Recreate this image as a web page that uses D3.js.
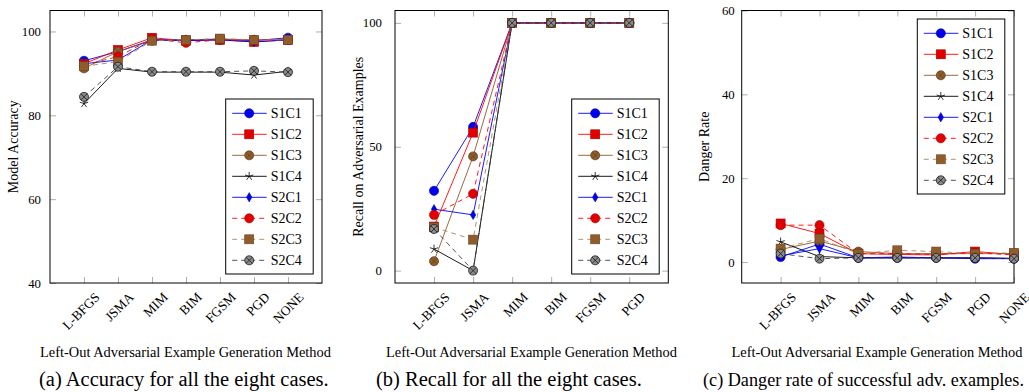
<!DOCTYPE html>
<html>
<head>
<meta charset="utf-8">
<script src="https://cdn.jsdelivr.net/npm/d3@7"></script>
<style>
  html, body { margin: 0; padding: 0; background: #fff; }
  svg { display: block; }
  svg text { font-family: "Liberation Serif", "DejaVu Serif", serif; }
</style>
</head>
<body>
<div id="chart"></div>
<script>
// categories
const methodsAll = ["L-BFGS", "JSMA", "MIM", "BIM", "FGSM", "PGD", "NONE"];
const methodsRecall = ["L-BFGS", "JSMA", "MIM", "BIM", "FGSM", "PGD"];
const seriesNames = ["S1C1", "S1C2", "S1C3", "S1C4", "S2C1", "S2C2", "S2C3", "S2C4"];

// (a) model accuracy, one row per series
const accuracyVals = [
  [93.0, 95.2, 98.0, 98.0, 98.1, 97.8, 98.5],
  [92.3, 95.6, 98.5, 97.8, 98.0, 97.5, 98.0],
  [91.2, 95.2, 97.8, 98.0, 98.2, 98.0, 98.0],
  [82.8, 91.2, 90.3, 90.3, 90.3, 89.6, 90.5],
  [92.3, 93.2, 98.0, 97.8, 98.0, 97.5, 98.0],
  [92.0, 94.0, 98.2, 97.3, 98.0, 98.0, 98.0],
  [91.7, 92.8, 97.8, 98.0, 98.3, 98.0, 98.0],
  [84.4, 91.6, 90.4, 90.4, 90.4, 90.6, 90.3]
];

// (b) recall on adversarial examples
const recallVals = [
  [32.2, 58.0, 100, 100, 100, 100],
  [17.8, 55.7, 100, 100, 100, 100],
  [3.8, 46.1, 100, 100, 100, 100],
  [8.7, 0.0, 100, 100, 100, 100],
  [24.8, 22.5, 100, 100, 100, 100],
  [22.5, 31.0, 100, 100, 100, 100],
  [17.5, 12.5, 100, 100, 100, 100],
  [16.8, 0.0, 100, 100, 100, 100]
];

// (c) danger rate
const dangerVals = [
  [1.2, 4.3, 1.0, 1.0, 1.0, 0.8, 0.8],
  [9.2, 6.8, 2.0, 1.8, 1.7, 2.5, 1.8],
  [3.0, 5.0, 2.5, 2.0, 2.0, 2.0, 2.0],
  [4.8, 1.3, 1.0, 1.0, 1.0, 1.0, 0.9],
  [1.5, 3.2, 1.0, 1.2, 1.0, 1.0, 0.8],
  [8.8, 8.8, 2.0, 2.0, 1.8, 2.2, 1.7],
  [3.2, 5.6, 2.0, 2.8, 2.5, 2.0, 2.2],
  [2.0, 0.8, 1.0, 1.0, 1.0, 1.0, 0.8]
];

// look of every series (pgfplots-like)
const seriesStyle = [
  { line: "#0000ff", dash: null,  mark: "circle",  fill: "#0000ee", stroke: "#0000a8" },
  { line: "#ff0000", dash: null,  mark: "square",  fill: "#e00000", stroke: "#b00000" },
  { line: "#8b5a2b", dash: null,  mark: "otimes",  fill: "#8f5c2c", stroke: "#6a421e", cross: "#6a421e" },
  { line: "#000000", dash: null,  mark: "star",    fill: "none",    stroke: "#000000" },
  { line: "#0000ff", dash: null,  mark: "diamond", fill: "#0000ee", stroke: "#0000a8" },
  { line: "#ff0000", dash: "5,4", mark: "circle",  fill: "#e00000", stroke: "#b00000" },
  { line: "#a88462", dash: "5,4", mark: "square",  fill: "#8f5c2c", stroke: "#6a421e" },
  { line: "#404040", dash: "5,4", mark: "otimes",  fill: "#8a8a8a", stroke: "#1a1a1a", cross: "#1a1a1a" }
];

const W = 1029, H = 392;
const plotTop = 10.5, plotBottom = 283;
const serif = "Liberation Serif, DejaVu Serif, serif";

const panels = [
  { left: 50, right: 322, yDomain: [40, 105], yTicks: [40, 60, 80, 100], cats: methodsAll, xMax: 7,
    data: accuracyVals, legend: [225.7, 99], ylabel: "Model Accuracy", ylabelX: 13, gap: 9,
    xlabelX: 185.5, caption: "(a) Accuracy for all the eight cases.", captionX: 39, captionSize: 20.5 },
  { left: 395, right: 668.3, yDomain: [-5, 105], yTicks: [0, 50, 100], cats: methodsRecall, xMax: 6,
    data: recallVals, legend: [571.7, 99], ylabel: "Recall on Adversarial Examples", ylabelX: 358, gap: 13,
    xlabelX: 531.5, caption: "(b) Recall for all the eight cases.", captionX: 376, captionSize: 20.5 },
  { left: 741.7, right: 1014, yDomain: [-5, 60], yTicks: [0, 20, 40, 60], cats: methodsAll, xMax: 6,
    data: dangerVals, legend: [917.3, 19], ylabel: "Danger Rate", ylabelX: 704, gap: 7,
    xlabelX: 877, caption: "(c) Danger rate of successful adv. examples.", captionX: 703, captionSize: 18.2 }
];

const svg = d3.select("#chart").append("svg")
  .attr("width", W)
  .attr("height", H);

function drawMarker(g, st, cx, cy) {
  if (st.mark === "circle") {
    g.append("circle").attr("cx", cx).attr("cy", cy).attr("r", 4.6)
      .attr("fill", st.fill).attr("stroke", st.stroke).attr("stroke-width", 0.6);
  } else if (st.mark === "square") {
    g.append("rect").attr("x", cx - 4.5).attr("y", cy - 4.5).attr("width", 9).attr("height", 9)
      .attr("fill", st.fill).attr("stroke", st.stroke).attr("stroke-width", 0.6);
  } else if (st.mark === "otimes") {
    const r = 4.5, k = r * Math.SQRT1_2;
    g.append("circle").attr("cx", cx).attr("cy", cy).attr("r", r)
      .attr("fill", st.fill).attr("stroke", st.stroke).attr("stroke-width", 0.8);
    g.append("path")
      .attr("d", `M${cx - k},${cy - k}L${cx + k},${cy + k}M${cx - k},${cy + k}L${cx + k},${cy - k}`)
      .attr("stroke", st.cross).attr("stroke-width", 0.8).attr("fill", "none");
  } else if (st.mark === "diamond") {
    g.append("path")
      .attr("transform", `translate(${cx},${cy})`)
      .attr("d", d3.symbol(d3.symbolDiamond, 26)())
      .attr("fill", st.fill).attr("stroke", st.stroke).attr("stroke-width", 0.5);
  } else if (st.mark === "star") {
    const r = 4.4;
    let d = "";
    for (let i = 0; i < 5; i++) {
      const a = -Math.PI / 2 + i * 2 * Math.PI / 5;
      d += `M${cx},${cy}L${cx + r * Math.cos(a)},${cy + r * Math.sin(a)}`;
    }
    g.append("path").attr("d", d).attr("stroke", st.stroke).attr("stroke-width", 0.8).attr("fill", "none");
  }
}

panels.forEach(p => {
  const x = d3.scaleLinear().domain([-1, p.xMax]).range([p.left, p.right]);
  const y = d3.scaleLinear().domain(p.yDomain).range([plotBottom, plotTop]);
  const g = svg.append("g");
  const idx = d3.range(p.cats.length);

  // ticks (inside, mirrored on all sides)
  const axL = g.append("g").attr("transform", `translate(${p.left},0)`)
    .call(d3.axisLeft(y).tickValues(p.yTicks).tickSize(-6).tickPadding(p.gap));
  const axR = g.append("g").attr("transform", `translate(${p.right},0)`)
    .call(d3.axisRight(y).tickValues(p.yTicks).tickSize(-6).tickFormat(""));
  const axB = g.append("g").attr("transform", `translate(0,${plotBottom})`)
    .call(d3.axisBottom(x).tickValues(idx).tickSize(-6).tickFormat(i => p.cats[i]));
  const axT = g.append("g").attr("transform", `translate(0,${plotTop})`)
    .call(d3.axisTop(x).tickValues(idx).tickSize(-6).tickFormat(""));
  [axL, axR, axB, axT].forEach(a => {
    a.select(".domain").remove();
    a.selectAll(".tick line").attr("stroke", "#9a9a9a").attr("stroke-width", 0.8);
  });
  axL.selectAll(".tick text")
    .attr("font-family", serif).attr("font-size", 12.8).attr("fill", "#000");
  axB.selectAll(".tick text")
    .attr("font-family", serif).attr("font-size", 13.3).attr("fill", "#000")
    .attr("x", 0).attr("y", 0).attr("dy", null)
    .attr("text-anchor", "end")
    .attr("transform", "translate(16,15) rotate(-45)");

  // frame
  g.append("rect")
    .attr("x", p.left).attr("y", plotTop)
    .attr("width", p.right - p.left).attr("height", plotBottom - plotTop)
    .attr("fill", "none").attr("stroke", "#000").attr("stroke-width", 1);

  // series
  const line = d3.line().x((d, i) => x(i)).y(d => y(d));
  p.data.forEach((vals, s) => {
    const st = seriesStyle[s];
    const sg = g.append("g");
    sg.append("path")
      .attr("d", line(vals))
      .attr("fill", "none")
      .attr("stroke", st.line)
      .attr("stroke-width", 0.9)
      .attr("stroke-dasharray", st.dash);
    vals.forEach((v, i) => drawMarker(sg, st, x(i), y(v)));
  });

  // legend
  const [lx, ly] = p.legend;
  const lg = g.append("g");
  lg.append("rect")
    .attr("x", lx).attr("y", ly).attr("width", 87.5).attr("height", 175)
    .attr("fill", "#fff").attr("stroke", "#000").attr("stroke-width", 1);
  seriesNames.forEach((name, s) => {
    const st = seriesStyle[s];
    const cy = ly + 14.3 + s * 21;
    lg.append("line")
      .attr("x1", lx + 6.5).attr("x2", lx + 41).attr("y1", cy).attr("y2", cy)
      .attr("stroke", st.line).attr("stroke-width", 0.9)
      .attr("stroke-dasharray", st.dash);
    drawMarker(lg, st, lx + 23.5, cy);
    lg.append("text")
      .attr("x", lx + 45).attr("y", cy + 4.8)
      .attr("font-family", serif)
      .attr("font-size", 14)
      .text(name);
  });

  // labels
  g.append("text")
    .attr("transform", `translate(${p.ylabelX + 5},${(plotTop + plotBottom) / 2}) rotate(-90)`)
    .attr("text-anchor", "middle")
    .attr("font-family", serif)
    .attr("font-size", 14)
    .text(p.ylabel);
  g.append("text")
    .attr("x", p.xlabelX).attr("y", 357)
    .attr("text-anchor", "middle")
    .attr("font-family", serif)
    .attr("font-size", 14.4)
    .text("Left-Out Adversarial Example Generation Method");
  g.append("text")
    .attr("x", p.captionX).attr("y", 386)
    .attr("font-family", serif)
    .attr("font-size", p.captionSize)
    .text(p.caption);
});
</script>
</body>
</html>
